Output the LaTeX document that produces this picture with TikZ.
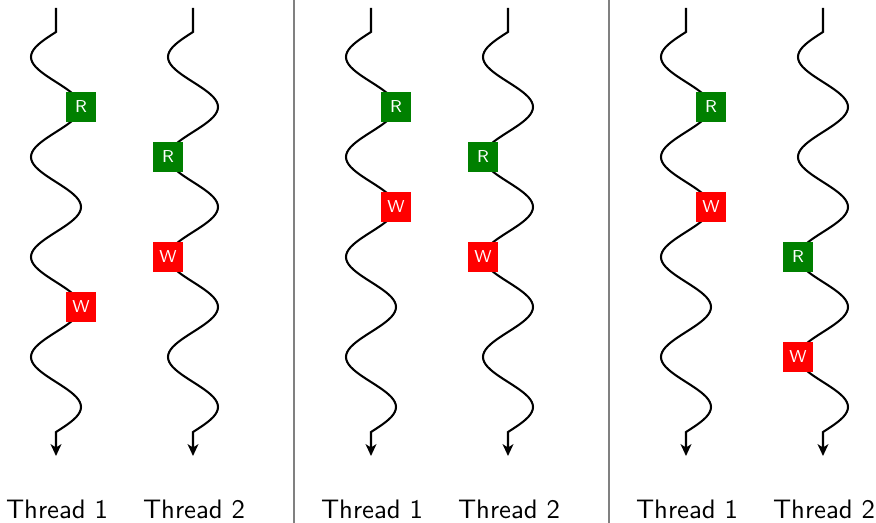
\documentclass[tikz,border=0pt]{standalone}
\usetikzlibrary{arrows.meta}
\begin{document}
\begin{tikzpicture}[x=0.389pt,y=-0.389pt,
  thread/.style={line width=0.8pt,-{Stealth[length=4.6pt,width=4.2pt,inset=1.3pt]}},
  sep/.style={draw=gray,line width=0.7pt},
  opbox/.style={minimum size=11.67pt,inner sep=0pt,text=white,
    font=\sffamily\fontsize{6.7}{8}\selectfont},
  rbox/.style={opbox,fill=green!50!black},
  wbox/.style={opbox,fill=red},
  lbl/.style={font=\sffamily\fontsize{10.4}{12}\selectfont,anchor=base,inner sep=0pt}]
\useasboundingbox (0,0) rectangle (876,523);

% panel separators
\coordinate (s1t) at (294,0); \coordinate (s1b) at (294,523);
\coordinate (s2t) at (609,0); \coordinate (s2b) at (609,523);
\draw[sep] (s1t) -- (s1b);
\draw[sep] (s2t) -- (s2b);

% two wavy threads per panel
\foreach \p/\xa in {1/56, 2/371, 3/686} {
  \foreach \k/\xo in {a/\xa, b/\xa+137} {
    \pgfmathsetmacro\xx{\xo}
    \coordinate (top\p\k) at (\xx,8);
    \coordinate (end\p\k) at (\xx,456);
    \draw[thread] (top\p\k) -- (\xx,32)
      -- plot[domain=32:432,samples=161,variable=\t]
         ({\xx-25*sin(3.6*(\t-32))},\t)
      -- (end\p\k);
  }
  \node[lbl] (lab\p a) at (\xa+1,519) {Thread 1};
  \node[lbl] (lab\p b) at (\xa+138,519) {Thread 2};
}

% panel 1
\node[rbox] (r11) at (81,107) {R};
\node[wbox] (w11) at (81,307) {W};
\node[rbox] (r12) at (168,157) {R};
\node[wbox] (w12) at (168,257) {W};
% panel 2
\node[rbox] (r21) at (396,107) {R};
\node[wbox] (w21) at (396,207) {W};
\node[rbox] (r22) at (483,157) {R};
\node[wbox] (w22) at (483,257) {W};
% panel 3
\node[rbox] (r31) at (711,107) {R};
\node[wbox] (w31) at (711,207) {W};
\node[rbox] (r32) at (798,257) {R};
\node[wbox] (w32) at (798,357) {W};
\end{tikzpicture}
\end{document}
